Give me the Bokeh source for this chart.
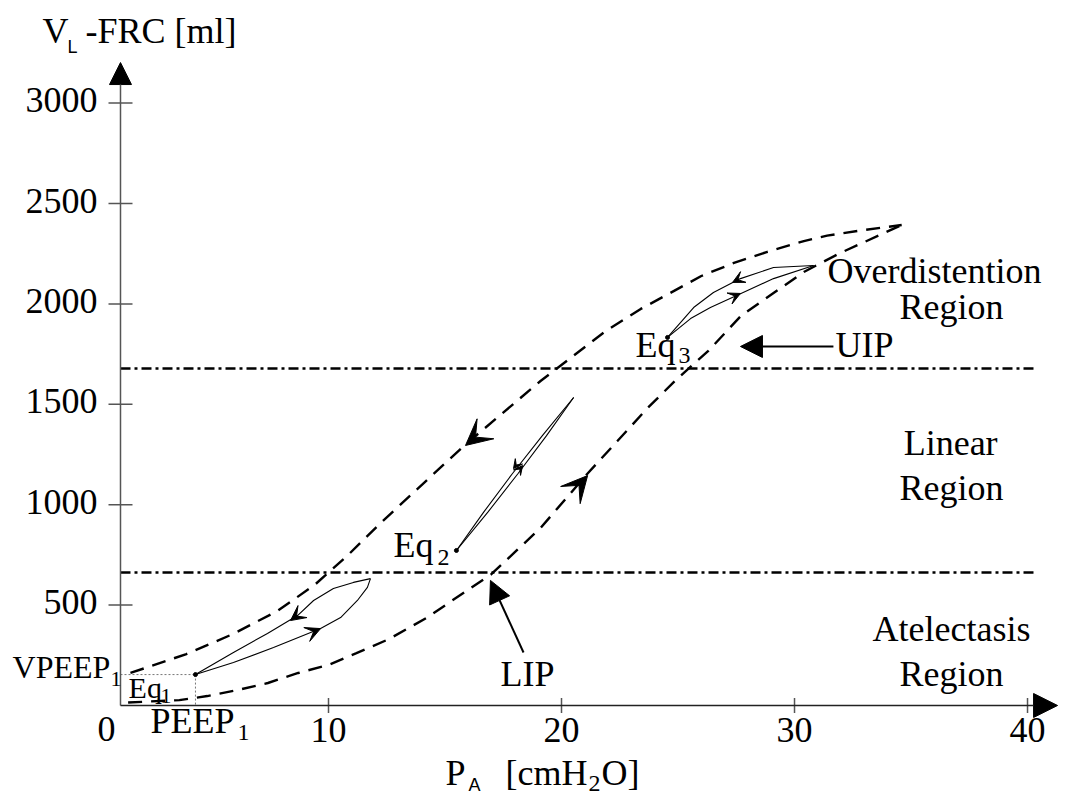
import math
from bokeh.plotting import figure
from bokeh.models import Range1d, Arrow, NormalHead, VeeHead, Label
from bokeh.core.properties import value
from bokeh.embed import file_html
from bokeh.resources import INLINE

# ---------------- data (P in cmH2O, V in ml) ----------------
x_ticks = [10, 20, 30, 40]
y_ticks = [500, 1000, 1500, 2000, 2500, 3000]

# deflation (upper) quasi-static curve
P_upper = [1.5, 3.9, 5.9, 7.8, 9.4, 10.8, 12.2, 15.8, 19.1, 21.9, 23.4, 24.6, 26.0, 27.4, 28.8, 30.4, 31.4, 32.8, 34.6]
V_upper = [162, 256, 356, 470, 600, 745, 905, 1292, 1616, 1865, 1975, 2050, 2139, 2204, 2258, 2313, 2340, 2365, 2393]

# inflation (lower) quasi-static curve
P_lower = [1.4, 3.6, 4.8, 6.1, 7.4, 8.7, 10.0, 11.2, 12.6, 14.2, 17.0, 19.1, 21.1, 22.4, 23.7, 24.9, 26.3, 27.7, 29.1, 30.4, 31.9, 33.6, 34.6]
V_lower = [15, 27, 47, 77, 112, 162, 202, 261, 331, 436, 655, 884, 1153, 1317, 1482, 1620, 1766, 1940, 2054, 2159, 2250, 2340, 2393]

# inflection points (region limits)
LIP_V = 662
UIP_V = 1678
region_P_end = 40.34

# equilibrium points (Eq1, Eq2, Eq3)
eq_P = [4.29, 15.49, 24.55]
eq_V = [154, 772, 1833]

# small breathing loops
eq1_in_P = [4.29, 5.92, 7.64, 9.66, 10.52, 11.24, 11.67, 11.80]
eq1_in_V = [154, 214, 289, 383, 438, 523, 588, 632]
eq1_out_P = [11.80, 11.07, 10.21, 9.36, 8.67, 7.38, 5.92, 4.29]
eq1_out_V = [632, 613, 583, 523, 448, 359, 264, 154]

eq2_in_P = [15.49, 16.84, 18.12, 19.35, 20.52]
eq2_in_V = [772, 963, 1153, 1343, 1534]
eq2_out_P = [20.52, 19.17, 17.88, 16.66, 15.49]
eq2_out_V = [1534, 1343, 1153, 963, 772]

eq3_in_P = [24.55, 25.54, 26.39, 27.68, 29.10, 30.82]
eq3_in_V = [1833, 1927, 1982, 2051, 2126, 2191]
eq3_out_P = [30.82, 29.10, 27.68, 26.52, 25.67, 24.55]
eq3_out_V = [2191, 2181, 2126, 2057, 1982, 1833]

# ---------------- figure ----------------
XL, XR = -4.077, 41.63      # visible P span
YB, YT = -453.2, 3511.0     # visible V span
X_AXIS_P = 1.073            # where the V axis stands
P_ARROW_END = 41.29
V_ARROW_END = 3202
FONT = "Liberation Serif"

p = figure(width=1065, height=796, output_backend="svg", toolbar_location=None,
           x_range=Range1d(XL, XR), y_range=Range1d(YB, YT),
           min_border=0)
p.axis.visible = False
p.grid.visible = False
p.outline_line_color = None
p.background_fill_color = "white"
p.border_fill_color = "white"

# axis lines with arrows
p.add_layout(Arrow(end=NormalHead(size=22, fill_color="black", line_color="black"),
                   x_start=X_AXIS_P, y_start=0, x_end=X_AXIS_P, y_end=V_ARROW_END,
                   line_color="#555555", line_width=1.5))
p.add_layout(Arrow(end=NormalHead(size=24, fill_color="black", line_color="black"),
                   x_start=X_AXIS_P, y_start=0, x_end=P_ARROW_END, y_end=0,
                   line_color="#222222", line_width=1.5))

# tick marks (crossing the axes) and tick labels
p.scatter(x_ticks, [0] * len(x_ticks), marker="dash", angle=math.pi / 2, size=15,
          line_color="#555555", line_width=1.5)
p.scatter([X_AXIS_P] * len(y_ticks), y_ticks, marker="dash", size=24,
          line_color="#555555", line_width=1.5)
p.text(x_ticks, [0] * len(x_ticks), text=[str(t) for t in x_ticks],
       text_font=value(FONT), text_font_size="36px", text_align="center",
       text_baseline="alphabetic", y_offset=25, text_color="black")
p.text([X_AXIS_P] * len(y_ticks), y_ticks, text=[str(t) for t in y_ticks],
       text_font=value(FONT), text_font_size="36px", text_align="right",
       text_baseline="alphabetic", x_offset=-23, y_offset=-3, text_color="black")

# region boundaries (dash-dot)
for v in (LIP_V, UIP_V):
    p.line([X_AXIS_P, region_P_end], [v, v], line_color="black", line_width=2.6,
           line_dash="10 4 3 4")

# quasi-static curves
p.line(P_upper, V_upper, line_color="black", line_width=2.4, line_dash="14 9")
p.line(P_lower, V_lower, line_color="black", line_width=2.4, line_dash="14 9")

# PEEP guides
p.line([X_AXIS_P, eq_P[0]], [eq_V[0], eq_V[0]], line_color="#777777", line_width=1, line_dash="2 2")
p.line([eq_P[0], eq_P[0]], [eq_V[0], 0], line_color="#777777", line_width=1, line_dash="2 2")

# loops
for xs, ys in ((eq1_in_P, eq1_in_V), (eq1_out_P, eq1_out_V), (eq2_in_P, eq2_in_V),
               (eq2_out_P, eq2_out_V), (eq3_in_P, eq3_in_V), (eq3_out_P, eq3_out_V)):
    p.line(xs, ys, line_color="black", line_width=1.1)
p.scatter(eq_P, eq_V, size=4, color="black")


def head(x0, y0, x1, y1, size, kind="vee"):
    h = VeeHead(size=size, fill_color="black", line_color="black") if kind == "vee" else \
        NormalHead(size=size, fill_color="black", line_color="black")
    p.add_layout(Arrow(end=h, x_start=x0, y_start=y0, x_end=x1, y_end=y1, line_alpha=0))


# arrowheads on the curves
head(16.54, 1359, 15.88, 1295, 26)
head(20.55, 1070, 21.12, 1145, 26)
# loop arrowheads
head(9.06, 483, 8.37, 423, 15)
head(8.97, 349, 9.66, 383, 15)
head(18.25, 1228, 17.94, 1180, 9)
head(18.01, 1148, 18.33, 1195, 9)
head(27.80, 2134, 27.34, 2107, 12)
head(27.21, 2027, 27.68, 2052, 12)

# LIP / UIP pointers
p.add_layout(Arrow(end=NormalHead(size=22, fill_color="black", line_color="black"),
                   x_start=18.37, y_start=264, x_end=16.95, y_end=623,
                   line_color="black", line_width=2))
p.add_layout(Arrow(end=NormalHead(size=22, fill_color="black", line_color="black"),
                   x_start=31.67, y_start=1788, x_end=27.68, y_end=1788,
                   line_color="black", line_width=2))


def lab(x, y, t, size="36px", align="left", font=FONT):
    p.add_layout(Label(x=x, y=y, text=t, text_font=font, text_font_size=size,
                       text_align=align, text_baseline="alphabetic", text_color="black"))


lab(31.42, 2166, "Overdistention")
lab(36.74, 1987, "Region", align="center")
lab(31.76, 1793, "UIP")
lab(36.70, 1305, "Linear", align="center")
lab(36.74, 1081, "Region", align="center")
lab(36.74, 383, "Atelectasis", align="center")
lab(36.74, 159, "Region", align="center")
lab(18.54, 159, "LIP", align="center")

lab(12.79, 797, "Eq")
lab(14.68, 737, "2", size="24px")
lab(23.18, 1793, "Eq")
lab(25.02, 1743, "3", size="24px")
lab(1.42, 90, "Eq", size="30px")
lab(2.79, 45, "1", size="22px")

lab(-3.56, 194, "VPEEP", size="32px")
lab(0.64, 134, "1", size="22px")
lab(2.36, -75, "PEEP")
lab(6.09, -134, "1", size="24px")
lab(0.09, -115, "0")

lab(-2.27, 3357, "V")
lab(-1.2, 3277, "L", size="18px", font="Liberation Sans")
lab(-0.43, 3357, "-FRC [ml]")

lab(15.02, -334, "P")
lab(16.01, -398, "A", size="18px", font="Liberation Sans")
lab(17.60, -334, "[cmH")
lab(21.16, -389, "2", size="24px")
lab(21.72, -334, "O]")

open("out.html", "w").write(file_html(p, INLINE))
